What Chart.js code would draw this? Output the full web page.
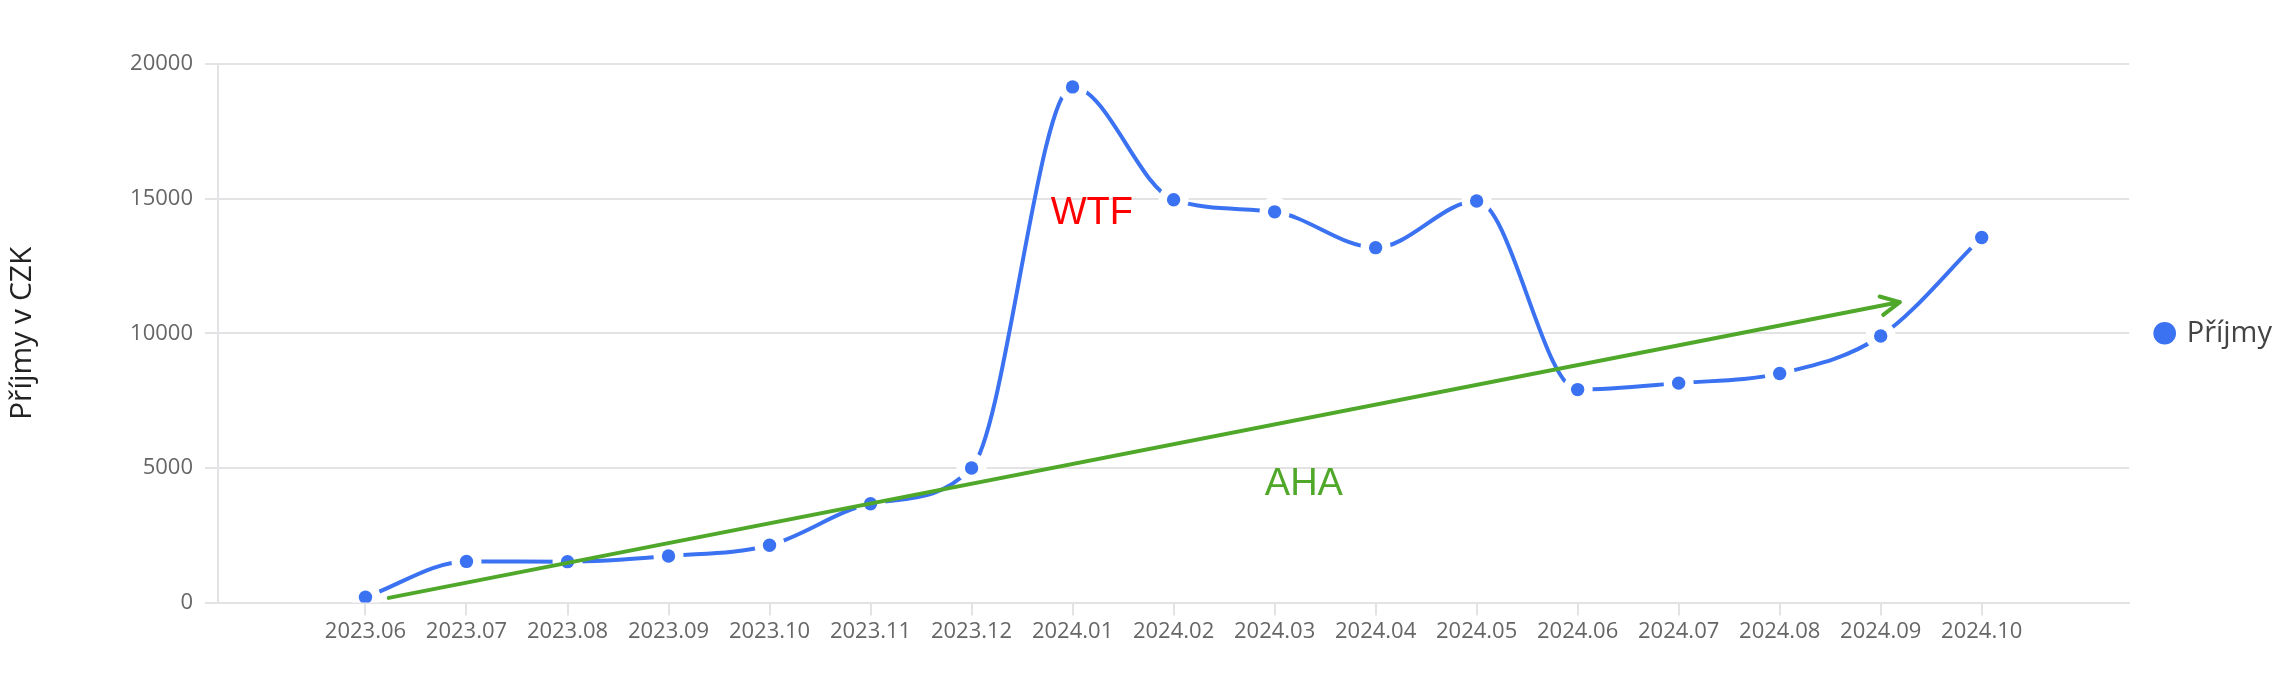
<!DOCTYPE html>
<html>
<head>
<meta charset="utf-8">
<script src="https://cdn.jsdelivr.net/npm/chart.js@4"></script>
<style>
  html, body { margin: 0; padding: 0; background: #fff; }
  #wrap { width: 2292px; height: 698px; }
</style>
</head>
<body>
<div id="wrap"><canvas id="chart"></canvas></div>
<script>
// data
const mesice = ['2023.06', '2023.07', '2023.08', '2023.09', '2023.10', '2023.11', '2023.12',
  '2024.01', '2024.02', '2024.03', '2024.04', '2024.05', '2024.06', '2024.07', '2024.08',
  '2024.09', '2024.10'];
const prijmy = [200, 1530, 1520, 1730, 2130, 3670, 5000, 19150, 14960, 14510, 13180, 14910,
  7910, 8150, 8510, 9900, 13560];
const yTicks = [0, 5000, 10000, 15000, 20000];

// annotations in data units (x = month index, y = CZK)
const sipkaOd = [0.23, 175];
const sipkaDo = [15.19, 11160];
const popisky = [
  { text: 'WTF', x: 7.19, y: 14430, color: '#ff0000' },
  { text: 'AHA', x: 9.29, y: 4400, color: '#4fa82a' }
];

const modra = '#3b72f2';
const zelena = '#4fa82a';
const seda = '#e3e3e5';

const body = prijmy.map((v, i) => ({ x: i, y: v }));

const anotace = {
  id: 'anotace',
  afterDatasetsDraw(chart) {
    const { ctx, scales: { x, y } } = chart;
    const x1 = x.getPixelForValue(sipkaOd[0]), y1 = y.getPixelForValue(sipkaOd[1]);
    const x2 = x.getPixelForValue(sipkaDo[0]), y2 = y.getPixelForValue(sipkaDo[1]);
    ctx.save();
    ctx.strokeStyle = zelena;
    ctx.lineWidth = 4;
    ctx.lineCap = 'round';
    ctx.lineJoin = 'round';
    ctx.beginPath();
    ctx.moveTo(x1, y1);
    ctx.lineTo(x2, y2);
    const uhel = Math.atan2(y2 - y1, x2 - x1);
    const delka = 21;
    ctx.moveTo(x2 - delka * Math.cos(uhel - 0.46), y2 - delka * Math.sin(uhel - 0.46));
    ctx.lineTo(x2, y2);
    ctx.lineTo(x2 - delka * Math.cos(uhel + 0.46), y2 - delka * Math.sin(uhel + 0.46));
    ctx.stroke();

    ctx.font = '38px "Liberation Sans", Arial, sans-serif';
    ctx.textAlign = 'center';
    ctx.textBaseline = 'middle';
    popisky.forEach(p => {
      ctx.fillStyle = p.color;
      ctx.fillText(p.text, x.getPixelForValue(p.x), y.getPixelForValue(p.y));
    });
    ctx.restore();
  }
};

Chart.defaults.font.family = '"Open Sans", sans-serif';

new Chart(document.getElementById('chart'), {
  type: 'line',
  data: {
    datasets: [
      {
        label: 'Příjmy',
        data: body,
        showLine: false,
        pointRadius: 6.7,
        pointBackgroundColor: modra,
        pointBorderWidth: 0,
        order: 1
      },
      {
        label: 'halo',
        data: body,
        showLine: false,
        pointRadius: 15,
        pointBackgroundColor: '#ffffff',
        pointBorderWidth: 0,
        order: 2
      },
      {
        label: 'linka',
        data: body,
        borderColor: modra,
        borderWidth: 4,
        pointRadius: 0,
        cubicInterpolationMode: 'monotone',
        fill: false,
        order: 3
      }
    ]
  },
  options: {
    responsive: true,
    maintainAspectRatio: false,
    animation: false,
    events: [],
    layout: { padding: { top: 64, right: 10, bottom: 50, left: 0 } },
    plugins: {
      tooltip: { enabled: false },
      legend: {
        position: 'right',
        fullSize: false,
        labels: {
          filter: item => item.text === 'Příjmy',
          usePointStyle: true,
          pointStyle: 'circle',
          boxWidth: 15,
          boxHeight: 16,
          padding: 28,
          color: '#444',
          font: { size: 29 }
        }
      }
    },
    scales: {
      x: {
        type: 'linear',
        min: -1.46,
        max: 17.46,
        afterBuildTicks: scale => { scale.ticks = mesice.map((_, i) => ({ value: i })); },
        ticks: {
          callback: v => mesice[v],
          autoSkip: false,
          maxRotation: 0,
          color: '#666',
          font: { size: 22 },
          padding: 3
        },
        grid: { drawOnChartArea: false, tickLength: 13, color: seda, lineWidth: 2 },
        border: { color: seda, width: 2 }
      },
      y: {
        min: 0,
        max: 20000,
        afterBuildTicks: scale => { scale.ticks = yTicks.map(v => ({ value: v })); },
        afterFit: scale => { scale.width = 218; },
        ticks: { color: '#666', font: { size: 22 }, padding: 12, callback: v => String(v) },
        grid: { tickLength: 13, color: seda, lineWidth: 2 },
        border: { color: seda, width: 2 },
        title: {
          display: true,
          text: 'Příjmy v CZK',
          color: '#222',
          font: { size: 30 }
        }
      }
    }
  },
  plugins: [anotace]
});
</script>
</body>
</html>
